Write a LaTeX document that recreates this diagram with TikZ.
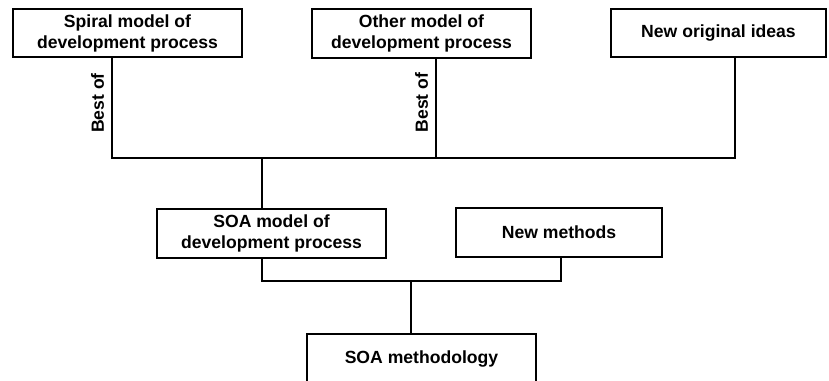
\documentclass[tikz,border=0pt]{standalone}
\usepackage{fontspec}
\setmainfont{Liberation Sans}
\usepackage{tikz}
\usetikzlibrary{calc}

\begin{document}
\begin{tikzpicture}[x=1pt,y=-1pt,line width=1.8pt]
  \tikzset{box/.style={draw,rectangle,align=center,inner sep=2pt,font=\fontsize{17.6}{21}\selectfont\bfseries},
           lbl/.style={rotate=90,anchor=south,inner sep=7pt,font=\fontsize{17.6}{21}\selectfont\bfseries}};
  \useasboundingbox (0,0) rectangle (829,380);
  \node[box,minimum width=229,minimum height=48] (Sp) at (127.5,33){Spiral model of\\development process};
  \node[box,minimum width=219,minimum height=49] (Ot) at (421.5,33.5){Other model of\\development process};
  \node[box,minimum width=215,minimum height=48] (Ni) at (718.5,33){New original ideas};
  \node[box,minimum width=229,minimum height=49] (Soa) at (271.5,233.5){SOA model of\\development process};
  \node[box,minimum width=206,minimum height=49] (Nm) at (559,232.5){New methods};
  \node[box,minimum width=229,minimum height=49] (Meth) at (421.5,358.5){SOA methodology};
  \coordinate (J1) at (262,158);
  \coordinate (J2) at (411,281);
  \draw ([xshift=-15.5pt]Sp.south) -- node[lbl,pos=0.45]{Best of} ([xshift=-15.5pt]Sp.south |- J1) -- (J1);
  \draw ([xshift=14.5pt]Ot.south) -- node[lbl,pos=0.44]{Best of} ([xshift=14.5pt]Ot.south |- J1);
  \draw ([xshift=16.5pt]Ni.south) |- (J1);
  \draw (J1) -- (J1 |- Soa.north);
  \draw ([xshift=-9.5pt]Soa.south) |- (J2) -| ([xshift=2pt]Nm.south);
  \draw (J2) -- (J2 |- Meth.north);
\end{tikzpicture}
\end{document}
